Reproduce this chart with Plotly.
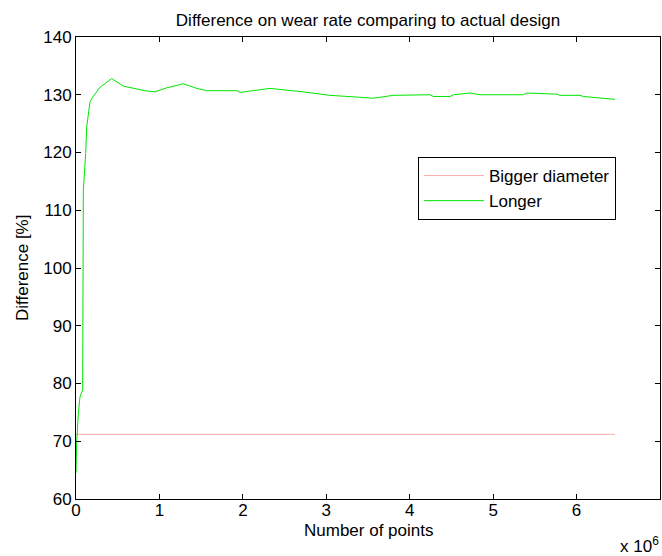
import plotly.graph_objects as go

# x values in units of 1e6 points
bigger_x = [0.0, 6.46]
bigger_y = [71.2, 71.2]

longer_x = [0, 0.008, 0.028, 0.048, 0.08, 0.08, 0.088, 0.116, 0.128, 0.168, 0.2, 0.288,
            0.428, 0.567, 0.687, 0.827, 0.947, 1.087, 1.286, 1.447, 1.567, 1.926, 1.966,
            2.325, 2.724, 3.044, 3.364, 3.564, 3.803, 4.243, 4.283, 4.483, 4.523, 4.723,
            4.842, 5.362, 5.402, 5.762, 5.801, 6.041, 6.081, 6.241, 6.381, 6.461]
longer_y = [64.5, 69.7, 74.8, 77.7, 78.9, 99.6, 113.5, 119.8, 124.4, 128.8, 129.6, 131.3,
            132.8, 131.5, 131.1, 130.7, 130.5, 131.2, 131.9, 131.1, 130.7, 130.7, 130.4,
            131.1, 130.5, 129.9, 129.6, 129.4, 129.9, 130.0, 129.7, 129.7, 130.0, 130.3,
            130.0, 130.0, 130.3, 130.1, 129.9, 129.9, 129.7, 129.5, 129.2, 129.2]

x_ticks = [0, 1, 2, 3, 4, 5, 6, 7]
y_ticks = [60, 70, 80, 90, 100, 110, 120, 130, 140]

FONT = "Liberation Sans, Arial, sans-serif"
FS = 17
W, H = 662, 556
L, R, T, B = 76, 2, 37, 57

fig = go.Figure()
fig.add_trace(go.Scatter(x=bigger_x, y=bigger_y, mode="lines", name="Bigger diameter",
                         line=dict(color="rgb(255,170,170)", width=1)))
fig.add_trace(go.Scatter(x=longer_x, y=longer_y, mode="lines", name="Longer",
                         line=dict(color="rgb(0,230,0)", width=1)))

axis_common = dict(showline=True, linecolor="black", linewidth=1, mirror="ticks",
                   ticks="inside", ticklen=5, tickcolor="black", showgrid=False,
                   zeroline=False, tickfont=dict(family=FONT, size=FS, color="black"))

fig.update_xaxes(range=[0, 7], tickvals=x_ticks, ticktext=[str(v) for v in x_ticks],
                 ticklabelstandoff=-4, **axis_common)
fig.update_yaxes(range=[60, 140], tickvals=y_ticks, ticktext=[str(v) for v in y_ticks],
                 ticklabelstandoff=0, **axis_common)

pw = W - L - R
ph = H - T - B

def px(xp):
    return (xp - L) / pw

def py(yp):
    return (H - B - yp) / ph

fig.update_layout(
    width=W, height=H,
    margin=dict(l=L, r=R, t=T, b=B, pad=0),
    paper_bgcolor="white", plot_bgcolor="white",
    font=dict(family=FONT, size=FS, color="black"),
    title=dict(text="Difference on wear rate comparing to actual design",
               x=px(368), xref="paper", xanchor="center",
               y=1 - 20 / H, yref="container", yanchor="middle",
               font=dict(family=FONT, size=FS, color="black")),
    showlegend=True,
    legend=dict(x=px(418), y=py(157), xanchor="left", yanchor="top",
                bordercolor="black", borderwidth=1, bgcolor="white",
                itemwidth=60,
                font=dict(family=FONT, size=FS, color="black")),
    annotations=[
        dict(text="Number of points", x=px(368), y=py(530), xref="paper", yref="paper",
             xanchor="center", yanchor="middle", showarrow=False,
             font=dict(family=FONT, size=FS, color="black")),
        dict(text="Difference [%]", x=px(22), y=py(268), xref="paper", yref="paper",
             xanchor="center", yanchor="middle", showarrow=False, textangle=-90,
             font=dict(family=FONT, size=FS, color="black")),
        dict(text="x 10<sup>6</sup>", x=px(661), y=py(545), xref="paper", yref="paper",
             xanchor="right", yanchor="middle", showarrow=False,
             font=dict(family=FONT, size=FS, color="black")),
    ],
)

fig.write_html("out.html")
